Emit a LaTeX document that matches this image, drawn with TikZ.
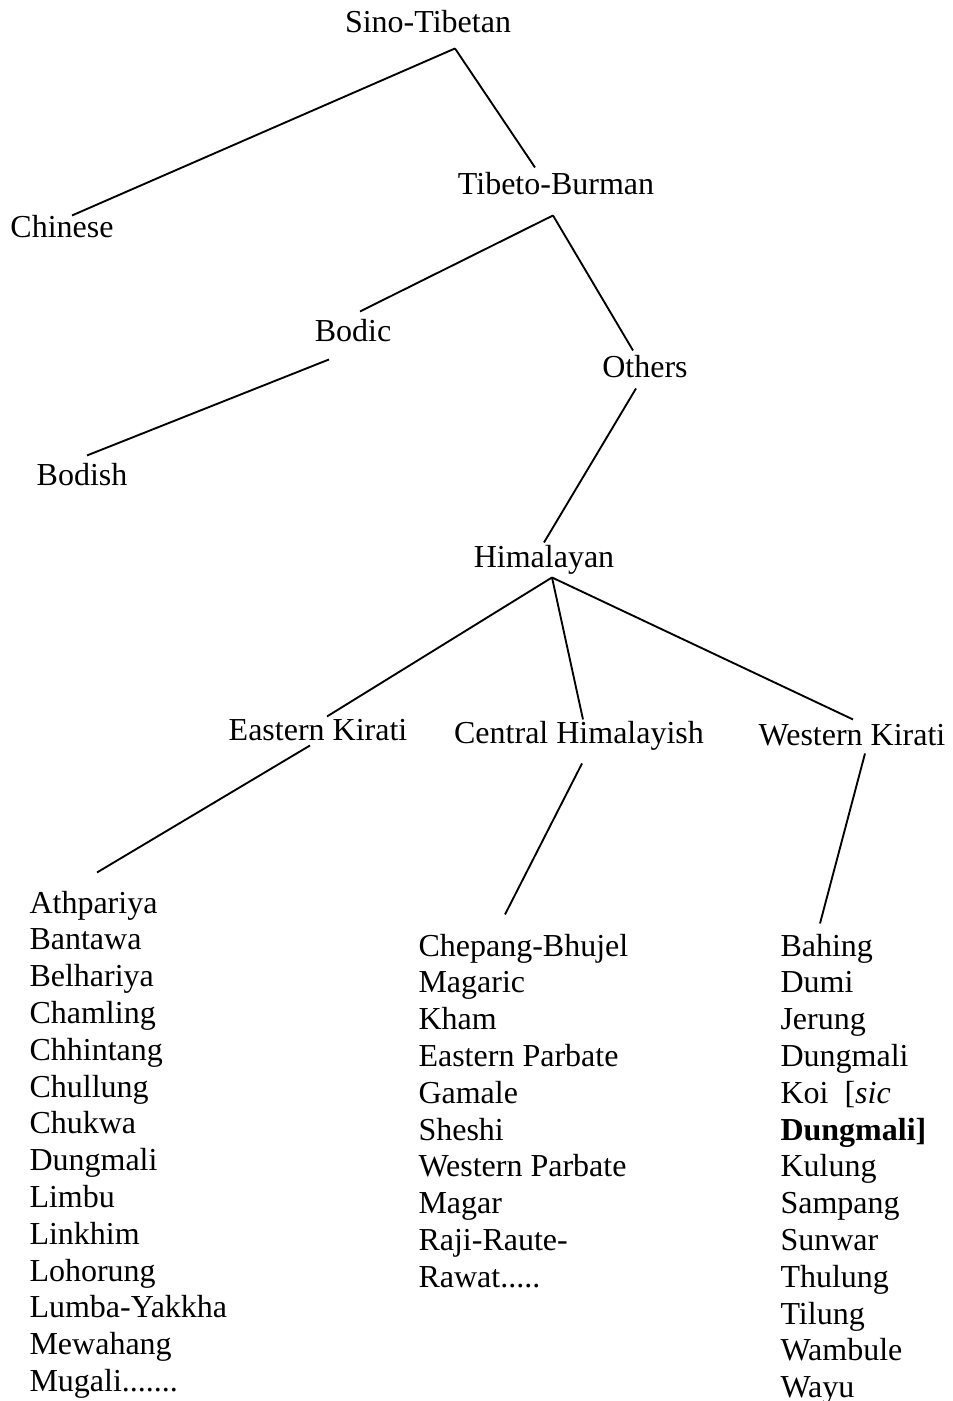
\documentclass[tikz,border=0pt]{standalone}
\usepackage{fontspec}
\setmainfont{Liberation Serif}
\usepackage{tikz}
\usetikzlibrary{positioning}

\tikzset{
  lang/.style={inner sep=0pt, anchor=base, text height=8.25pt, text depth=2.6pt},
  item/.style={lang, anchor=base west},
  ast/.style={line width=0.7pt}
}

\begin{document}
\begin{tikzpicture}[x=0.375pt, y=-0.375pt, font=\fontsize{12pt}{13.8pt}\selectfont]

\useasboundingbox (0,0) rectangle (952,1401);

% Knoten oben
\node[lang] (sino) at (428,33) {Sino-Tibetan};
\node[lang] (chinese) at (62,238) {Chinese};
\node[lang] (tibeto) at (556,195) {Tibeto-Burman};
\node[lang] (bodic) at (353,342) {Bodic};
\node[lang] (others) at (645,377) {Others};
\node[lang] (bodish) at (82,485) {Bodish};
\node[lang] (himalayan) at (544,567) {Himalayan};

% Drei Gruppen
\node[lang] (eastern) at (318,740) {Eastern Kirati};
\node[lang] (central) at (579,743) {Central Himalayish};
\node[lang] (western) at (852,745) {Western Kirati};

% Listen
\foreach \name [count=\i from 0] in {Athpariya, Bantawa, Belhariya, Chamling,
  Chhintang, Chullung, Chukwa, Dungmali, Limbu, Linkhim, Lohorung,
  Lumba-Yakkha, Mewahang, {Mugali{.......}}}
  \node[item] (ek\i) at (29,913+36.8*\i) {\name};

\foreach \name [count=\i from 0] in {Chepang-Bhujel, Magaric, Kham,
  Eastern Parbate, Gamale, Sheshi, Western Parbate, Magar, Raji-Raute-,
  {Rawat{.....}}}
  \node[item] (ch\i) at (418,956+36.8*\i) {\name};

\foreach \name [count=\i from 0] in {Bahing, Dumi, Jerung, Dungmali,
  {Koi\enspace[\textit{sic}}, {\textbf{Dungmali]}}, Kulung, Sampang, Sunwar,
  Thulung, Tilung, Wambule, Wayu}
  \node[item] (wk\i) at (780,956+36.8*\i) {\name};

% Aeste
\draw[ast] ([shift={(27,8)}]sino.south) -- ([shift={(10,0)}]chinese.north);
\draw[ast] ([shift={(27,8)}]sino.south) -- ([shift={(-21,-5)}]tibeto.north);
\draw[ast] ([shift={(-3,13)}]tibeto.south) -- ([shift={(7,-8)}]bodic.north);
\draw[ast] ([shift={(-3,13)}]tibeto.south) -- ([shift={(-12,-4)}]others.north);
\draw[ast] ([shift={(-24,10)}]bodic.south) -- ([shift={(5,-7)}]bodish.north);
\draw[ast] ([shift={(-9,4)}]others.south) -- ([shift={(0,-2)}]himalayan.north);

\draw[ast] ([shift={(8,3)}]himalayan.south) -- ([shift={(9,-1)}]eastern.north);
\draw[ast] ([shift={(8,3)}]himalayan.south) -- ([shift={(4,-1)}]central.north);
\draw[ast] ([shift={(8,3)}]himalayan.south) -- ([shift={(1,-3)}]western.north);

\draw[ast] ([shift={(-8,-2)}]eastern.south) -- ([shift={(68,-18)}]ek0.north west);
\draw[ast] ([shift={(3,13)}]central.south) -- ([shift={(87,-19)}]ch0.north west);
\draw[ast] ([shift={(13,1)}]western.south) -- ([shift={(40,-10)}]wk0.north west);

\end{tikzpicture}
\end{document}
